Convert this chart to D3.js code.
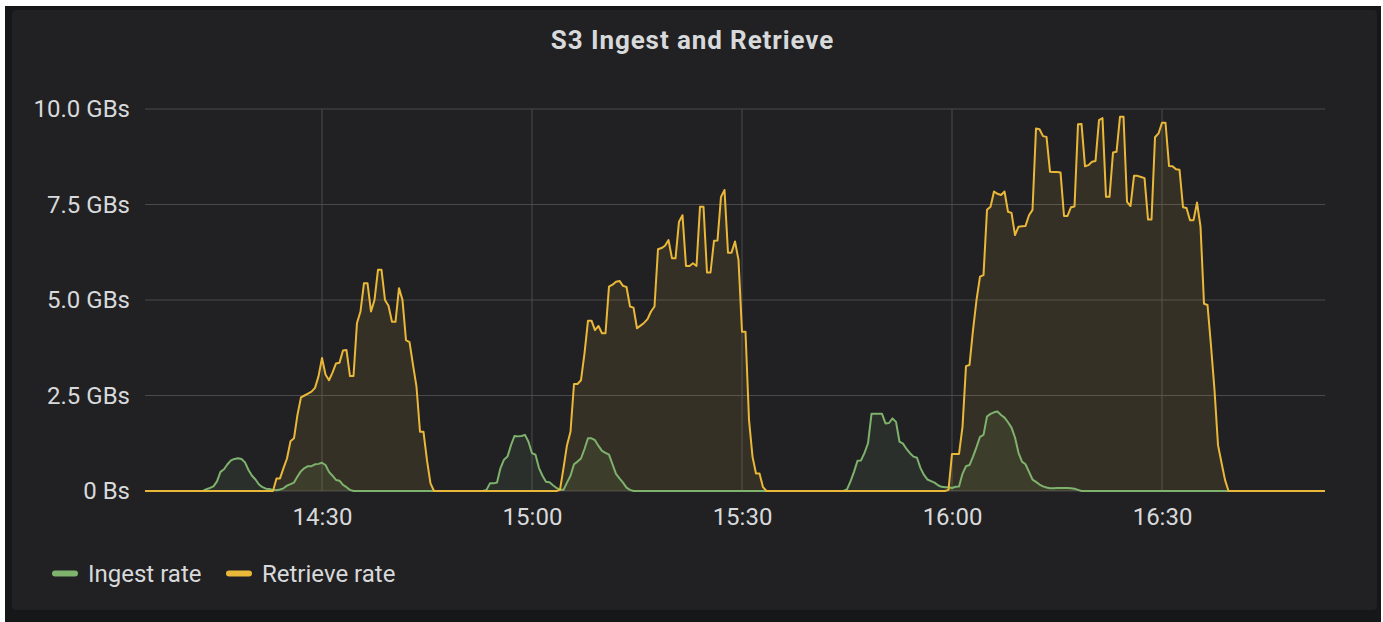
<!DOCTYPE html>
<html>
<head>
<meta charset="utf-8">
<script src="https://cdn.jsdelivr.net/npm/d3@7"></script>
<style>
  html, body { margin: 0; padding: 0; background: #ffffff; }
  svg { display: block; }
  text { font-family: Roboto, "Liberation Sans", sans-serif; }
</style>
</head>
<body>
<script>
// ---------- DATA ----------
const title = "S3 Ingest and Retrieve";
const seriesNames = ["Ingest rate", "Retrieve rate"];
const seriesColors = ["#7eb26d", "#eab839"];
const dataStart = "14:04:30";   // first sample
const stepSeconds = 30;          // sample interval
const viewStart = "14:04:43";
const viewEnd = "16:53:17";
const xTickLabels = ["14:30", "15:00", "15:30", "16:00", "16:30"];
const yTickValues = [0, 2.5, 5, 7.5, 10];
const yTickLabels = ["0 Bs", "2.5 GBs", "5.0 GBs", "7.5 GBs", "10.0 GBs"];

// GB/s, one value every 30 s
const ingestRate = [
0,0,0,0,0,0,0,0,0,0,
0,0,0,0,0,0,0,0,
0.05,0.08,0.12,0.25,0.5,0.57,0.7,0.8,0.84,0.86,
0.84,0.75,0.55,0.4,0.3,0.17,0.1,0.06,0.05,0.03,
0.02,0.04,0.07,0.14,0.18,0.22,0.38,0.52,0.6,0.65,
0.65,0.7,0.71,0.74,0.68,0.5,0.4,0.29,0.27,0.16,
0.1,0.03,
0,0,0,0,0,0,0,0,0,0,
0,0,0,0,0,0,0,0,0,0,
0,0,0,0,0,0,0,0,0,0,
0,0,0,0,0,0,0,0,
0.03,0.2,0.2,0.22,0.6,0.82,0.9,1.2,1.44,1.43,
1.44,1.47,1.29,0.99,0.95,0.6,0.4,0.24,0.23,0.15,
0.08,0.03,0.03,0.22,0.4,0.7,0.77,0.85,1.1,1.38,
1.38,1.33,1.18,1.05,1.0,0.95,0.7,0.45,0.33,0.22,
0.09,0.03,
0,0,0,0,0,0,0,0,0,0,
0,0,0,0,0,0,0,0,0,0,
0,0,0,0,0,0,0,0,0,0,
0,0,0,0,0,0,0,0,0,0,
0,0,0,0,0,0,0,0,0,0,
0,0,0,0,0,0,0,0,0,0,
0,
0.04,0.25,0.5,0.79,0.8,1.0,1.25,2.02,2.02,2.02,
2.02,1.77,1.78,1.9,1.81,1.29,1.24,1.1,0.99,0.9,
0.87,0.6,0.42,0.3,0.26,0.22,0.15,0.11,0.1,0.1,
0.08,0.11,0.12,0.45,0.65,0.68,0.9,1.15,1.42,1.47,
1.95,2.02,2.06,2.08,1.99,1.92,1.8,1.66,1.4,1.0,
0.77,0.7,0.5,0.3,0.24,0.17,0.12,0.09,0.07,0.07,
0.08,0.08,0.08,0.08,0.07,0.06,0.03,
0,0,0,0,0,0,0,0,0,0,
0,0,0,0,0,0,0,0,0,0,
0,0,0,0,0,0,0,0,0,0,
0,0,0,0,0,0,0,0,0,0,
0,0,0,0,0,0,0,0,0,0,
0,0,0,0,0,0,0,0,0,0,
0,0,0,0,0,0,0,0,0,0,
0
];

const retrieveRate = [
0,0,0,0,0,0,0,0,0,0,
0,0,0,0,0,0,0,0,0,0,
0,0,0,0,0,0,0,0,0,0,
0,0,0,0,0,0,0,0,
0.33,0.33,0.6,0.85,1.3,1.38,2.0,2.45,2.5,2.55,
2.6,2.7,3.0,3.48,3.05,2.9,3.1,3.34,3.36,3.68,
3.69,3.01,3.01,4.4,4.7,5.44,5.44,4.7,5.0,5.79,
5.79,5.0,4.85,4.43,4.43,5.31,5.0,3.95,3.9,3.3,
2.73,1.55,1.55,0.8,0.2,0,
0,0,0,0,0,0,0,0,0,0,
0,0,0,0,0,0,0,0,0,0,
0,0,0,0,0,0,0,0,0,0,
0,0,0,0,
0,0.03,0.6,1.2,1.55,2.8,2.8,2.9,3.6,4.46,
4.46,4.21,4.32,4.13,4.13,5.35,5.4,5.48,5.5,5.37,
5.34,4.83,4.8,4.26,4.33,4.4,4.5,4.7,4.83,6.33,
6.36,6.42,6.57,6.09,6.09,7.05,7.22,5.89,5.89,5.96,
5.89,7.44,7.44,5.72,5.72,6.55,6.56,7.7,7.88,6.24,
6.24,6.53,6.05,4.17,4.17,1.86,0.9,0.46,0.46,0.1,
0,
0,0,0,0,0,0,0,0,0,0,
0,0,0,0,0,0,0,0,0,0,
0,0,0,0,0,0,0,0,0,0,
0,0,0,0,0,0,0,0,0,0,
0,0,0,0,0,0,0,0,0,0,
0,0.03,0.97,0.97,0.97,1.68,3.27,3.3,4.21,5.0,
5.61,5.65,7.36,7.44,7.84,7.78,7.75,7.84,7.31,7.28,
6.7,6.92,6.93,6.94,7.22,7.36,9.49,9.47,9.29,9.27,
8.36,8.35,8.35,8.34,7.2,7.2,7.43,7.45,9.6,9.61,
8.5,8.53,8.62,8.64,9.71,9.76,7.7,7.7,8.86,8.88,
9.8,9.8,7.57,7.46,8.25,8.25,8.22,8.19,7.11,7.11,
9.26,9.36,9.64,9.64,8.51,8.5,8.42,8.41,7.43,7.41,
7.09,7.09,7.55,6.92,4.9,4.87,3.8,2.64,1.2,0.74,
0.29,0,
0,0,0,0,0,0,0,0,0,0,
0,0,0,0,0,0,0,0,0,0,
0,0,0,0,0,0,0,0
];

// ---------- LAYOUT ----------
const W = 1383, H = 622;
const plot = { left: 145, right: 1325, top: 109, bottom: 491 };
const textColor = "#d8d9da";
const gridColor = "#4a4a4d";

const parseT = s => { const [h, m, sec] = s.split(":").map(Number); return new Date(2020, 0, 1, h, m, sec || 0); };
const t0 = parseT(dataStart);
const timeAt = i => new Date(t0.getTime() + i * stepSeconds * 1000);

const x = d3.scaleTime().domain([parseT(viewStart), parseT(viewEnd)]).range([plot.left, plot.right]);
const y = d3.scaleLinear().domain([0, 10]).range([plot.bottom, plot.top]);

const svg = d3.select("body").append("svg").attr("width", W).attr("height", H);

// frame + panel
svg.append("rect").attr("x", 5).attr("y", 6).attr("width", 1376).attr("height", 616).attr("fill", "#161719");
svg.append("rect").attr("x", 12).attr("y", 10).attr("width", 1365).attr("height", 600).attr("rx", 4).attr("fill", "#212124");

// title
svg.append("text").attr("x", 692.5).attr("y", 49).attr("text-anchor", "middle")
  .attr("fill", textColor).attr("font-size", 26).attr("font-weight", 700)
  .attr("letter-spacing", 0.9).text(title);

// grid
const xTicks = xTickLabels.map(parseT);
const grid = svg.append("g");
grid.selectAll("line.h").data(yTickValues).join("line").attr("class", "h")
  .attr("x1", plot.left).attr("x2", plot.right)
  .attr("y1", d => y(d)).attr("y2", d => y(d))
  .attr("stroke", gridColor).attr("stroke-width", 1);
grid.selectAll("line.v").data(xTicks).join("line").attr("class", "v")
  .attr("x1", d => x(d)).attr("x2", d => x(d))
  .attr("y1", plot.top).attr("y2", plot.bottom)
  .attr("stroke", gridColor).attr("stroke-width", 1);

// axes (labels only)
const yAxis = d3.axisLeft(y).tickValues(yTickValues).tickSize(0).tickPadding(0)
  .tickFormat((d, i) => yTickLabels[i]);
const gy = svg.append("g").attr("transform", `translate(${130},0)`).call(yAxis);
gy.select(".domain").remove();
gy.selectAll("text").attr("fill", textColor).attr("font-size", 24)
  .attr("font-family", "Roboto, sans-serif").attr("dy", "0.33em");

const xAxis = d3.axisBottom(x).tickValues(xTicks).tickSize(0).tickPadding(0)
  .tickFormat(d3.timeFormat("%H:%M"));
const gx = svg.append("g").attr("transform", `translate(0,${508})`).call(xAxis);
gx.select(".domain").remove();
gx.selectAll("text").attr("fill", textColor).attr("font-size", 24)
  .attr("font-family", "Roboto, sans-serif").attr("dy", "0.72em");

// clip
svg.append("clipPath").attr("id", "clip").append("rect")
  .attr("x", plot.left).attr("y", 0).attr("width", plot.right - plot.left).attr("height", plot.bottom + 2);

const series = [ingestRate, retrieveRate];
const area = d3.area().x((d, i) => x(timeAt(i))).y0(y(0)).y1(d => y(d));
const line = d3.line().x((d, i) => x(timeAt(i))).y(d => y(d));

const g = svg.append("g").attr("clip-path", "url(#clip)");
series.forEach((s, k) => {
  g.append("path").attr("d", area(s)).attr("fill", seriesColors[k]).attr("fill-opacity", 0.1);
});
series.forEach((s, k) => {
  g.append("path").attr("d", line(s)).attr("fill", "none")
    .attr("stroke", seriesColors[k]).attr("stroke-width", 2).attr("stroke-linejoin", "round");
});

// legend
const legendX = [52, 226];
const leg = svg.append("g");
seriesNames.forEach((n, k) => {
  leg.append("rect").attr("x", legendX[k]).attr("y", 570.5).attr("width", 26).attr("height", 6)
    .attr("rx", 3).attr("fill", seriesColors[k]);
  leg.append("text").attr("x", legendX[k] + 36).attr("y", 582).attr("fill", textColor)
    .attr("font-size", 24).text(n);
});
</script>
</body>
</html>
